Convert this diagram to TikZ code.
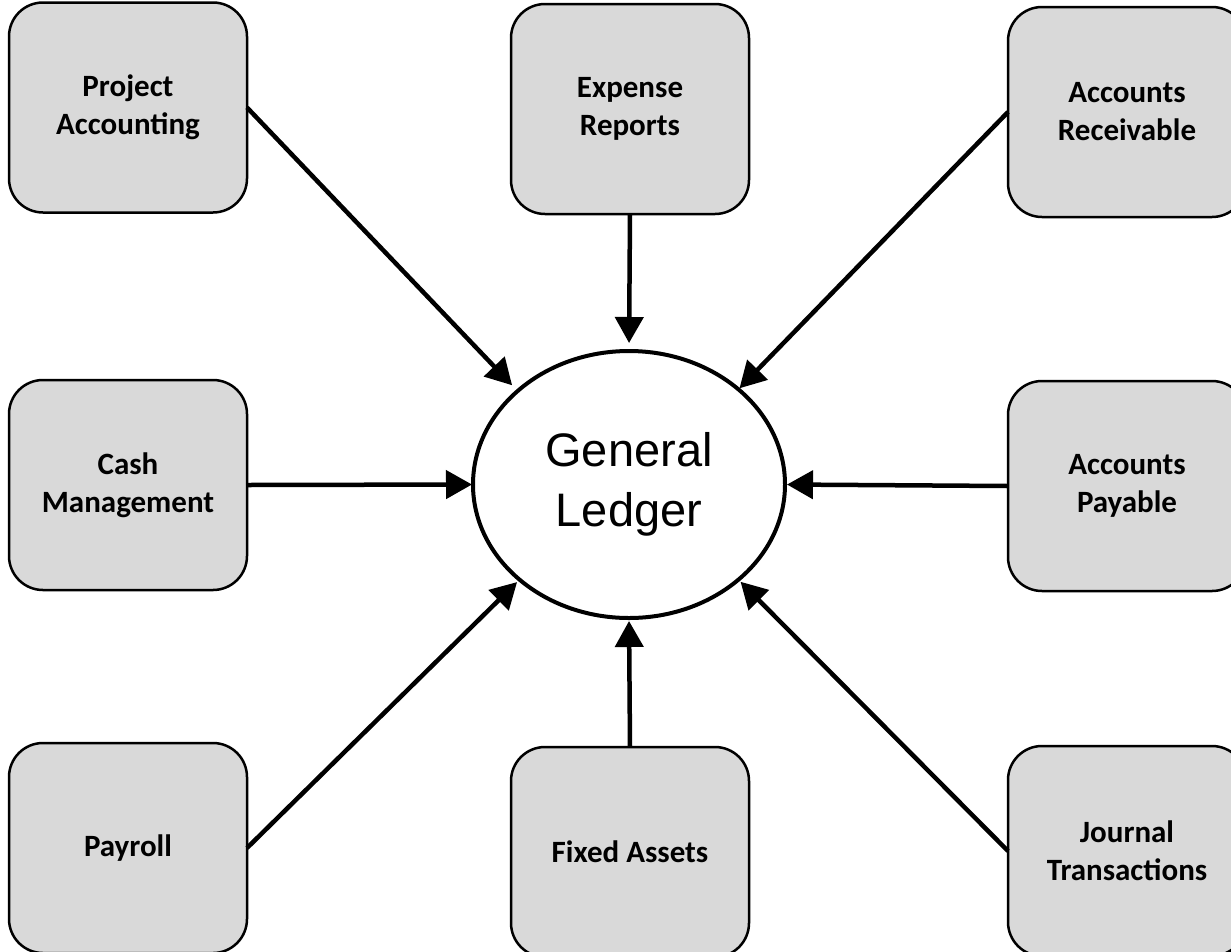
\documentclass[tikz,border=0pt]{standalone}
\usepackage{fontspec}
\setmainfont{Carlito}
\newfontfamily\arialf{Liberation Sans}
\usetikzlibrary{arrows.meta,shapes.geometric}
\definecolor{boxgray}{HTML}{D9D9D9}
\begin{document}
\begin{tikzpicture}[x=1pt,y=-1pt,
  module/.style={draw=black, line width=2.5pt, fill=boxgray, rounded corners=34pt,
    minimum width=238pt, minimum height=210pt, inner sep=0pt, outer sep=0pt,
    align=center, font=\fontsize{31}{38}\selectfont\bfseries},
  hub/.style={ellipse, draw=black, line width=4pt, fill=white,
    minimum width=312pt, minimum height=267pt, inner sep=0pt, outer sep=0pt,
    align=center, font=\arialf\fontsize{47}{60}\selectfont},
  feed/.style={-{Triangle[length=26pt,width=28pt]}, line width=4.5pt}]
\useasboundingbox (0,0) rectangle (1231,951);
\fill[white] (0,0) rectangle (1231,951);

\node[hub] (gl) at (629,484.5) {General\\Ledger};

\node[module] (pa) at (128,107.5) {Project\\Accounting};
\node[module] (er) at (630,109) {Expense\\Reports};
\node[module] (ar) at (1127,112) {Accounts\\Receivable};
\node[module] (cm) at (128,485) {Cash\\Management};
\node[module] (ap) at (1127,486) {Accounts\\Payable};
\node[module] (pr) at (128,848) {Payroll};
\node[module] (fa) at (630,852) {Fixed Assets};
\node[module] (jt) at (1127,851) {Journal\\Transactions};

\draw[feed, shorten >=8pt] (pa.east) -- (gl.140);
\draw[feed, shorten >=8pt] (er.south) -- (gl.north);
\draw[feed, shorten >=1.5pt] (ar.west) -- (gl.41);
\draw[feed, shorten >=1pt] (cm.east) -- (gl.west);
\draw[feed, shorten >=2pt] (ap.west) -- (gl.east);
\draw[feed, shorten >=3.5pt] (pr.east) -- (gl.221);
\draw[feed, shorten >=3pt] (fa.north) -- (gl.south);
\draw[feed, shorten >=3pt] (jt.west) -- (gl.319);
\end{tikzpicture}
\end{document}
